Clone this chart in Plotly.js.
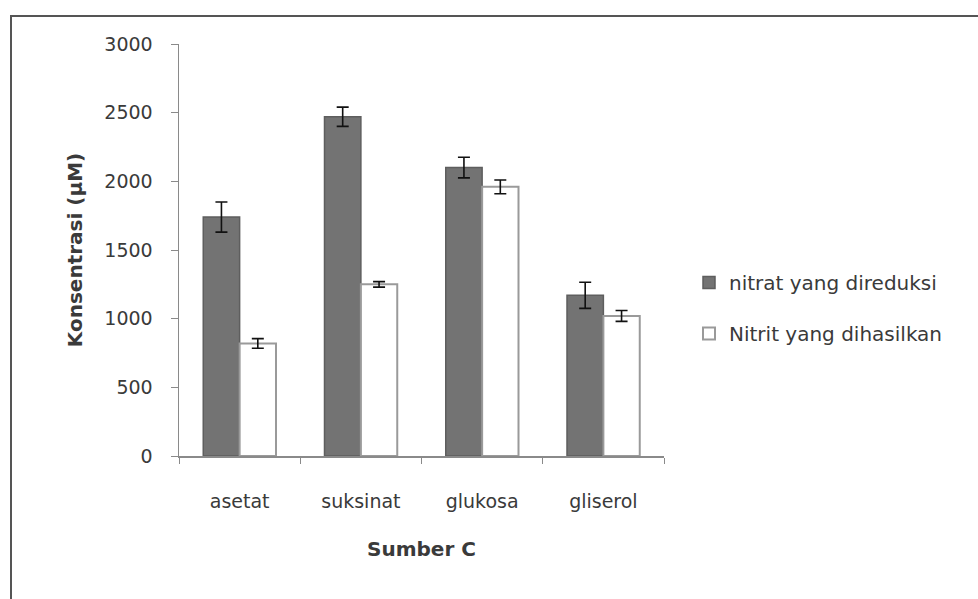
<!DOCTYPE html>
<html>
<head>
<meta charset="utf-8">
<script src="https://cdn.plot.ly/plotly-3.0.1.min.js"></script>
<style>html,body{margin:0;padding:0;background:#fff;}#chart{width:978px;height:599px;}</style>
</head>
<body>
<div id="chart"></div>
<script>
const categories = ["asetat", "suksinat", "glukosa", "gliserol"];
const nitratValues = [1740, 2470, 2100, 1170];
const nitratErrors = [110, 70, 75, 95];
const nitritValues = [820, 1250, 1960, 1020];
const nitritErrors = [35, 20, 50, 40];
const seriesNames = ["nitrat yang direduksi", "Nitrit yang dihasilkan"];
const yTicks = [0, 500, 1000, 1500, 2000, 2500, 3000];

const L = 179, R = 664, T = 44, B = 456, W = 978, H = 599;
const px = x => (x - L) / (R - L);
const py = y => (B - y) / (B - T);

const font = "DejaVu Sans, sans-serif";
const txt = "#3a3a3a";

const traces = [
  {
    type: "bar", name: seriesNames[0], x: categories, y: nitratValues, legendgroup: "a",
    marker: {color: "#737373", line: {color: "#5e5e5e", width: 1.5}},
    error_y: {type: "data", array: nitratErrors, visible: true, color: "#111", thickness: 1.6, width: 6}
  },
  {
    type: "bar", name: seriesNames[1], x: categories, y: nitritValues, legendgroup: "b",
    marker: {color: "#ffffff", line: {color: "#9a9a9a", width: 2}},
    error_y: {type: "data", array: nitritErrors, visible: true, color: "#111", thickness: 1.6, width: 6}
  }
];

const layout = {
  width: W, height: H,
  margin: {l: L, r: W - R, t: T, b: H - B},
  paper_bgcolor: "#fff", plot_bgcolor: "#fff",
  barmode: "group", bargap: 0.4, bargroupgap: 0,
  font: {family: font, color: txt, size: 19},
  showlegend: true,
  legend: {x: px(689), y: py(308), xanchor: "left", yanchor: "middle", traceorder: "grouped",
           font: {family: font, size: 20, color: txt}, tracegroupgap: 22, itemwidth: 30, bgcolor: "rgba(0,0,0,0)"},
  xaxis: {
    type: "category", showgrid: false, showline: true, linecolor: "#8a8a8a", linewidth: 1.5,
    ticks: "outside", tickson: "boundaries", ticklen: 6, tickcolor: "#8a8a8a",
    tickfont: {family: font, size: 19, color: txt}, ticklabelstandoff: 28,
    title: {text: "<b>Sumber C</b>", font: {family: font, size: 20, color: txt}, standoff: 30},
    zeroline: false
  },
  yaxis: {
    range: [0, 3000], tickvals: yTicks, ticktext: yTicks.map(String),
    showgrid: false, showline: true, linecolor: "#8a8a8a", linewidth: 1.5,
    ticks: "outside", ticklen: 7, tickcolor: "#8a8a8a",
    tickfont: {family: font, size: 19, color: txt}, ticklabelstandoff: 14,
    title: {text: "<b>Konsentrasi (µM)</b>", font: {family: font, size: 20, color: txt}, standoff: 16},
    zeroline: false
  },
  shapes: [
    {type: "line", xref: "paper", yref: "paper", x0: px(10), x1: px(978), y0: py(16), y1: py(16), line: {color: "#555", width: 2}},
    {type: "line", xref: "paper", yref: "paper", x0: px(11), x1: px(11), y0: py(15), y1: py(599), line: {color: "#555", width: 2}}
  ]
};

Plotly.newPlot("chart", traces, layout, {displayModeBar: false, staticPlot: true});
</script>
</body>
</html>
